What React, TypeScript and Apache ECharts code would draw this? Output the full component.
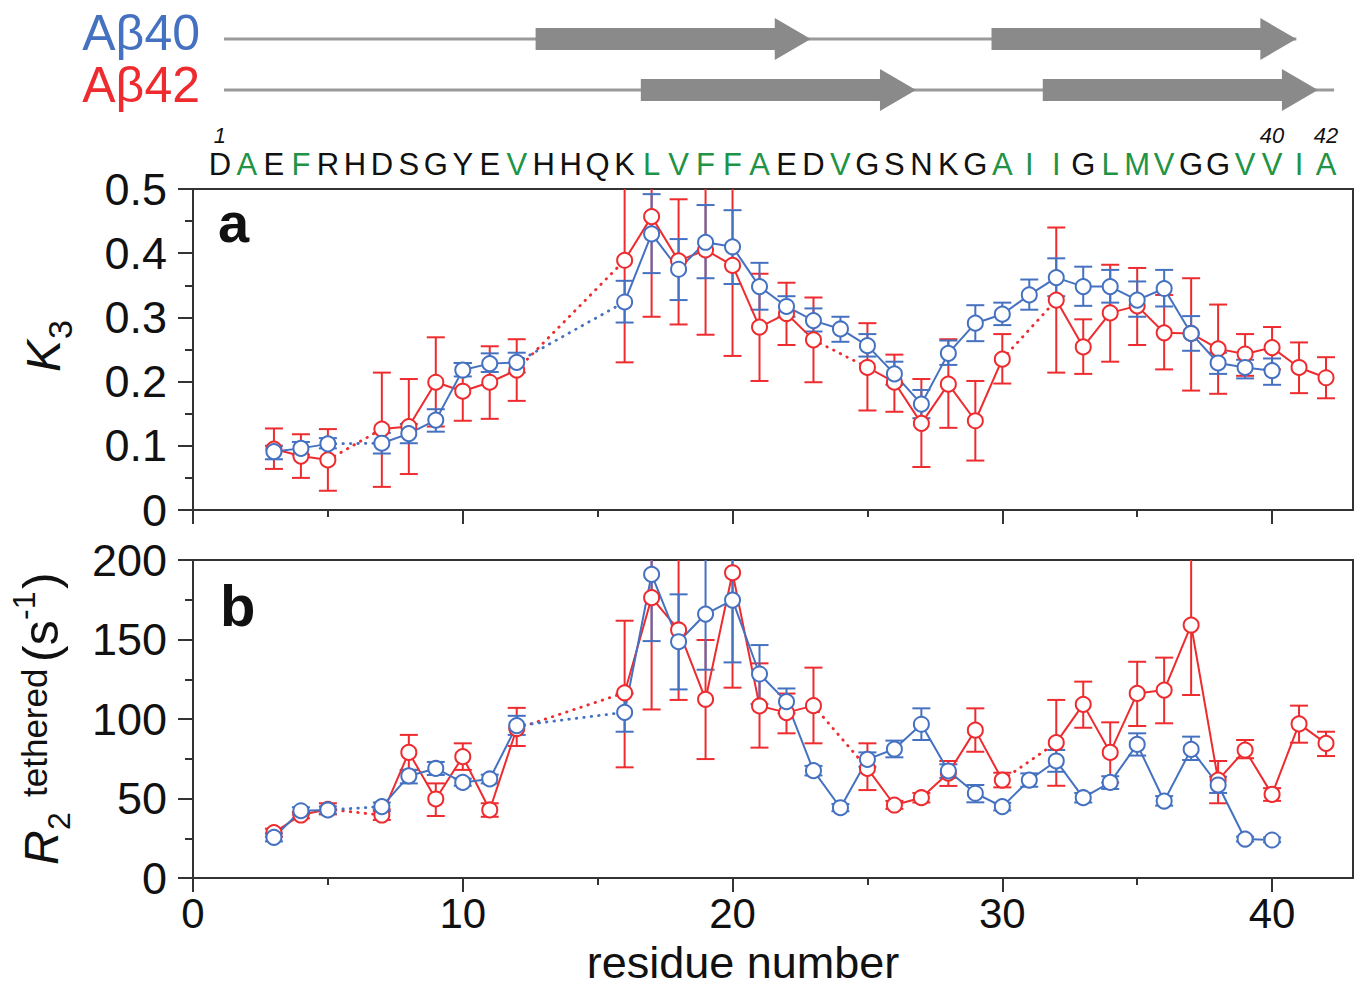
import React, { useEffect, useRef } from "react";
import * as echarts from "echarts";

// ---------- data ----------
const sequence = "DAEFRHDSGYEVHHQKLVFFAEDVGSNKGAIIGLMVGGVVIA".split("");
const greenResidues = [2, 4, 12, 17, 18, 19, 20, 21, 24, 30, 31, 32, 34, 35, 36, 39, 40, 41, 42];
const markedResidues = [1, 40, 42];
const xMajorTicks = [0, 10, 20, 30, 40];
const xMinorTicks = [5, 15, 25, 35];
const xTitle = "residue number";

// Aβ40 (blue)
const res40 = [3, 4, 5, 7, 8, 9, 10, 11, 12, 16, 17, 18, 19, 20, 21, 22, 23, 24, 25, 26, 27, 28, 29, 30, 31, 32, 33, 34, 35, 36, 37, 38, 39, 40];
const k3_40 = [0.091, 0.096, 0.103, 0.104, 0.119, 0.14, 0.218, 0.228, 0.23, 0.324, 0.43, 0.375, 0.417, 0.41, 0.348, 0.317, 0.295, 0.282, 0.256, 0.212, 0.165, 0.244, 0.291, 0.305, 0.335, 0.362, 0.348, 0.348, 0.327, 0.345, 0.275, 0.229, 0.222, 0.217];
const k3_40_lo = [0.079, 0.086, 0.096, 0.088, 0.104, 0.122, 0.208, 0.215, 0.214, 0.292, 0.369, 0.327, 0.361, 0.352, 0.312, 0.301, 0.278, 0.262, 0.239, 0.195, 0.143, 0.226, 0.263, 0.288, 0.312, 0.333, 0.318, 0.323, 0.301, 0.317, 0.248, 0.212, 0.205, 0.195];
const k3_40_hi = [0.1, 0.106, 0.112, 0.12, 0.134, 0.157, 0.229, 0.244, 0.245, 0.357, 0.492, 0.422, 0.475, 0.467, 0.385, 0.333, 0.314, 0.301, 0.274, 0.231, 0.187, 0.264, 0.319, 0.323, 0.359, 0.392, 0.379, 0.374, 0.356, 0.374, 0.302, 0.245, 0.234, 0.236];
const r2_40 = [25.6, 42.3, 42.8, 44.9, 64.2, 68.9, 60.1, 62.3, 95.8, 104.2, 191, 148.6, 166, 174.8, 128.3, 110.9, 67.5, 44.2, 74.6, 81.1, 96.7, 67.3, 53.3, 44.9, 61.6, 73.6, 50.5, 60.1, 84, 48.4, 80.9, 58.5, 24.5, 23.9];
const r2_40_lo = [23, 40, 40.5, 42, 59.5, 64.8, 58, 59.5, 90, 92, 149, 118.6, 131, 135.6, 109.4, 103.6, 64.5, 42, 70, 75.9, 86.8, 63, 47.6, 42.5, 57.4, 66.8, 47.5, 56, 77, 45.5, 74.2, 53.5, 23, 22.5];
const r2_40_hi = [28, 44.5, 45, 47.5, 68, 73, 62.5, 65, 102, 116, 233, 178.4, 201, 214, 146.5, 119.2, 70.5, 46.5, 79, 86.4, 106.7, 71.5, 58.5, 47.3, 65.8, 80.5, 53.5, 64, 91, 51.5, 88.9, 63.7, 26, 25.5];

// Aβ42 (red)
const res42 = [3, 4, 5, 7, 8, 9, 10, 11, 12, 16, 17, 18, 19, 20, 21, 22, 23, 25, 26, 27, 28, 29, 30, 32, 33, 34, 35, 36, 37, 38, 39, 40, 41, 42];
const k3_42 = [0.095, 0.084, 0.078, 0.126, 0.13, 0.199, 0.185, 0.199, 0.218, 0.389, 0.457, 0.388, 0.405, 0.381, 0.285, 0.306, 0.265, 0.222, 0.199, 0.135, 0.196, 0.139, 0.235, 0.327, 0.254, 0.307, 0.318, 0.276, 0.275, 0.251, 0.243, 0.253, 0.222, 0.206];
const k3_42_lo = [0.064, 0.05, 0.03, 0.036, 0.056, 0.13, 0.139, 0.142, 0.17, 0.23, 0.301, 0.289, 0.273, 0.24, 0.201, 0.257, 0.199, 0.155, 0.153, 0.067, 0.128, 0.077, 0.197, 0.214, 0.212, 0.231, 0.257, 0.219, 0.186, 0.181, 0.209, 0.219, 0.182, 0.174];
const k3_42_hi = [0.127, 0.118, 0.126, 0.214, 0.204, 0.269, 0.229, 0.255, 0.266, 0.55, 0.61, 0.484, 0.54, 0.52, 0.368, 0.354, 0.331, 0.291, 0.242, 0.204, 0.266, 0.201, 0.274, 0.44, 0.297, 0.382, 0.377, 0.335, 0.361, 0.32, 0.274, 0.285, 0.261, 0.238];
const r2_42 = [28.5, 39.6, 43.2, 39.6, 79, 49.7, 76.3, 42.8, 94, 116.5, 176.3, 156, 112.4, 192, 108.2, 104, 108.4, 68.9, 45.9, 50.5, 66, 93, 61.6, 85.1, 109.2, 79, 116.1, 118.2, 159.1, 61.6, 80.5, 52.6, 96.9, 84.7];
const r2_42_lo = [26, 37.5, 40, 36.5, 68, 39, 68, 38.5, 83, 69.6, 106, 112, 74.8, 119.7, 82, 91, 84.7, 55.3, 43.5, 47.5, 57.9, 79.4, 57, 58, 94.5, 60, 95.6, 97.3, 115.1, 47, 75.3, 48.5, 85.1, 76.7];
const r2_42_hi = [31, 41.5, 47, 43, 90, 59.5, 84.7, 47, 107, 161.8, 246, 210, 149.7, 264, 135, 116, 132.3, 84.7, 48.5, 53.5, 73.6, 106.7, 66.2, 112, 123.5, 97.9, 136, 138.6, 205, 73.6, 86.8, 56.5, 108.4, 92];

// secondary structure (residue units)
const coil40 = [1.15, 40.9];
const strands40 = [[12.7, 22.9], [29.6, 40.9]];
const coil42 = [1.15, 42.3];
const strands42 = [[16.6, 26.8], [31.5, 41.7]];

// ---------- styling ----------
const FF = "'Liberation Sans', Arial, Helvetica, sans-serif";
const BLUE = "#4571c1";
const RED = "#ee2b2e";
const GREEN = "#1f9447";
const AXIS = "#333";

function solidData(res: number[], vals: number[]) {
  const out: any[] = [];
  res.forEach((r, i) => {
    if (i > 0 && r - res[i - 1] > 1) out.push([r - 0.5, "-"]);
    out.push([r, vals[i]]);
  });
  return out;
}
function dottedData(res: number[], vals: number[]) {
  const out: any[] = [];
  res.forEach((r, i) => {
    if (i > 0 && r - res[i - 1] > 1) {
      out.push([res[i - 1], vals[i - 1]], [r, vals[i]], [r + 0.01, "-"]);
    }
  });
  return out;
}
function errData(res: number[], lo: number[], hi: number[]) {
  return res.map((r, i) => [r, lo[i], hi[i]]);
}

function errSeries(color: string, data: any[], g: number, xi: number) {
  return {
    type: "custom",
    xAxisIndex: xi,
    yAxisIndex: g,
    clip: true,
    silent: true,
    encode: { x: 0, y: [1, 2] },
    data,
    renderItem: (params: any, api: any) => {
      const x = api.value(0);
      const p1 = api.coord([x, api.value(1)]);
      const p2 = api.coord([x, api.value(2)]);
      const w = 9;
      const st = { stroke: color, lineWidth: 2 };
      return {
        type: "group",
        children: [
          { type: "line", shape: { x1: p1[0], y1: p1[1], x2: p2[0], y2: p2[1] }, style: st },
          { type: "line", shape: { x1: p1[0] - w, y1: p1[1], x2: p1[0] + w, y2: p1[1] }, style: st },
          { type: "line", shape: { x1: p2[0] - w, y1: p2[1], x2: p2[0] + w, y2: p2[1] }, style: st },
        ],
      };
    },
  };
}
function lineSeries(color: string, data: any[], g: number, xi: number) {
  return {
    type: "line",
    xAxisIndex: xi,
    yAxisIndex: g,
    data,
    silent: true,
    connectNulls: false,
    symbol: "circle",
    symbolSize: 15,
    showAllSymbol: true,
    itemStyle: { color: "#fff", borderColor: color, borderWidth: 2 },
    lineStyle: { color, width: 2 },
    emphasis: { disabled: true },
  };
}
function dotSeries(color: string, data: any[], g: number, xi: number) {
  return {
    type: "line",
    xAxisIndex: xi,
    yAxisIndex: g,
    data,
    silent: true,
    connectNulls: false,
    symbol: "none",
    lineStyle: { color, width: 2.8, type: [0.5, 7], cap: "round" },
    emphasis: { disabled: true },
  };
}

function tickAxis(grid: number, values: number[], len: number, showLine: boolean) {
  return {
    type: "value",
    gridIndex: grid,
    position: "bottom",
    min: 0,
    max: 43,
    axisLine: { show: showLine, lineStyle: { color: AXIS, width: 2 } },
    axisTick: { show: true, customValues: values, length: len, inside: false, lineStyle: { color: AXIS, width: 2 } },
    axisLabel: { show: false },
    splitLine: { show: false },
  };
}

export default function App() {
  const ref = useRef<HTMLDivElement>(null);
  useEffect(() => {
    if (!ref.current) return;
    const chart = echarts.init(ref.current, null, { renderer: "svg" });
    const seqValues = sequence.map((_, i) => i + 1);
    const option: any = {
      animation: false,
      backgroundColor: "#fff",
      textStyle: { fontFamily: FF },
      grid: [
        { left: 193, width: 1160, top: 189, height: 321, show: true, borderColor: AXIS, borderWidth: 2, backgroundColor: "transparent" },
        { left: 193, width: 1160, top: 560, height: 318, show: true, borderColor: AXIS, borderWidth: 2, backgroundColor: "transparent" },
      ],
      xAxis: [
        tickAxis(0, xMajorTicks, 14, true),
        tickAxis(0, xMinorTicks, 7, false),
        {
          type: "value",
          gridIndex: 0,
          position: "top",
          min: 0,
          max: 43,
          axisLine: { show: false },
          axisTick: { show: false },
          splitLine: { show: false },
          axisLabel: {
            customValues: seqValues,
            margin: 9,
            fontSize: 31,
            fontFamily: FF,
            formatter: (v: number) => {
              const letter = sequence[Math.round(v) - 1] || "";
              return greenResidues.includes(Math.round(v)) ? `{g|${letter}}` : `{k|${letter}}`;
            },
            rich: {
              g: { color: GREEN, fontSize: 31, fontFamily: FF },
              k: { color: "#111", fontSize: 31, fontFamily: FF },
            },
          },
        },
        {
          type: "value",
          gridIndex: 0,
          position: "top",
          min: 0,
          max: 43,
          axisLine: { show: false },
          axisTick: { show: false },
          splitLine: { show: false },
          axisLabel: {
            customValues: markedResidues,
            margin: 43,
            fontSize: 22,
            fontStyle: "italic",
            color: "#111",
            fontFamily: FF,
          },
        },
        {
          ...tickAxis(1, xMajorTicks, 14, true),
          axisLabel: { show: true, customValues: xMajorTicks, margin: 14, fontSize: 42, color: "#111", fontFamily: FF },
        },
        tickAxis(1, xMinorTicks, 7, false),
      ],
      yAxis: [
        {
          type: "value",
          gridIndex: 0,
          min: 0,
          max: 0.5,
          interval: 0.1,
          axisLine: { show: true, lineStyle: { color: AXIS, width: 2 } },
          axisTick: { show: true, length: 15, inside: false, lineStyle: { color: AXIS, width: 2 } },
          minorTick: { show: true, splitNumber: 2, length: 8, lineStyle: { color: AXIS, width: 2 } },
          splitLine: { show: false },
          minorSplitLine: { show: false },
          axisLabel: {
            margin: 26,
            fontSize: 45,
            color: "#111",
            fontFamily: FF,
            formatter: (v: number) => (v === 0 ? "0" : v.toFixed(1)),
          },
        },
        {
          type: "value",
          gridIndex: 1,
          min: 0,
          max: 200,
          interval: 50,
          axisLine: { show: true, lineStyle: { color: AXIS, width: 2 } },
          axisTick: { show: true, length: 15, inside: false, lineStyle: { color: AXIS, width: 2 } },
          minorTick: { show: true, splitNumber: 2, length: 8, lineStyle: { color: AXIS, width: 2 } },
          splitLine: { show: false },
          minorSplitLine: { show: false },
          axisLabel: { margin: 26, fontSize: 45, color: "#111", fontFamily: FF },
        },
      ],
      series: [
        errSeries(RED, errData(res42, k3_42_lo, k3_42_hi), 0, 0),
        dotSeries(RED, dottedData(res42, k3_42), 0, 0),
        lineSeries(RED, solidData(res42, k3_42), 0, 0),
        errSeries(BLUE, errData(res40, k3_40_lo, k3_40_hi), 0, 0),
        dotSeries(BLUE, dottedData(res40, k3_40), 0, 0),
        lineSeries(BLUE, solidData(res40, k3_40), 0, 0),
        errSeries(RED, errData(res42, r2_42_lo, r2_42_hi), 1, 4),
        dotSeries(RED, dottedData(res42, r2_42), 1, 4),
        lineSeries(RED, solidData(res42, r2_42), 1, 4),
        errSeries(BLUE, errData(res40, r2_40_lo, r2_40_hi), 1, 4),
        dotSeries(BLUE, dottedData(res40, r2_40), 1, 4),
        lineSeries(BLUE, solidData(res40, r2_40), 1, 4),
      ],
    };
    chart.setOption(option);

    const px = (v: number) => chart.convertToPixel({ xAxisIndex: 0 }, v) as number;
    const txt = (text: string, x: number, y: number, size: number, extra: any = {}) => ({
      type: "text",
      x,
      y,
      silent: true,
      style: {
        text,
        fill: extra.fill || "#111",
        fontSize: size,
        fontFamily: FF,
        fontStyle: extra.fontStyle || "normal",
        fontWeight: extra.fontWeight || "normal",
        align: extra.align || "left",
        textAlign: extra.align || "left",
        verticalAlign: "middle",
        textVerticalAlign: "middle",
      },
    });
    const track = (coil: number[], strands: number[][], y: number) => {
      const els: any[] = [
        { type: "line", silent: true, shape: { x1: px(coil[0]), y1: y, x2: px(coil[1]), y2: y }, style: { stroke: "#9a9a9a", lineWidth: 3 } },
      ];
      const bh = 11, hh = 21, hl = 36;
      strands.forEach(([a, b]) => {
        const x0 = px(a), xt = px(b), xh = xt - hl;
        els.push({
          type: "polygon",
          silent: true,
          shape: { points: [[x0, y - bh], [xh, y - bh], [xh, y - hh], [xt, y], [xh, y + hh], [xh, y + bh], [x0, y + bh]] },
          style: { fill: "#8a8a8a" },
        });
      });
      return els;
    };
    const graphic: any[] = [
      ...track(coil40, strands40, 39),
      ...track(coil42, strands42, 90),
      txt("Aβ40", 200, 33, 50, { fill: BLUE, align: "right" }),
      txt("Aβ42", 200, 85, 50, { fill: RED, align: "right" }),
      txt("a", 218, 222, 56, { fontWeight: "bold" }),
      txt("b", 220, 605, 58, { fontWeight: "bold" }),
      txt(xTitle, 743, 962, 45, { align: "center" }),
      {
        type: "group",
        x: 60,
        y: 372,
        rotation: Math.PI / 2,
        silent: true,
        children: [
          txt("K", 0, -17, 48, { fontStyle: "italic" }),
          txt("3", 33, 0, 34),
        ],
      },
      {
        type: "group",
        x: 58,
        y: 865,
        rotation: Math.PI / 2,
        silent: true,
        children: [
          txt("R", 0, -17, 48, { fontStyle: "italic" }),
          txt("2", 35, 1, 32),
          txt("tethered", 68, -24, 35),
          txt("(s", 203, -17, 50),
          txt("-1", 245, -34, 32),
          txt(")", 276, -17, 50),
        ],
      },
    ];
    chart.setOption({ graphic });
    return () => chart.dispose();
  }, []);
  return (
    <div
      ref={ref}
      style={{ position: "absolute", left: 0, top: 0, width: 1360, height: 990, background: "#fff" }}
    />
  );
}
